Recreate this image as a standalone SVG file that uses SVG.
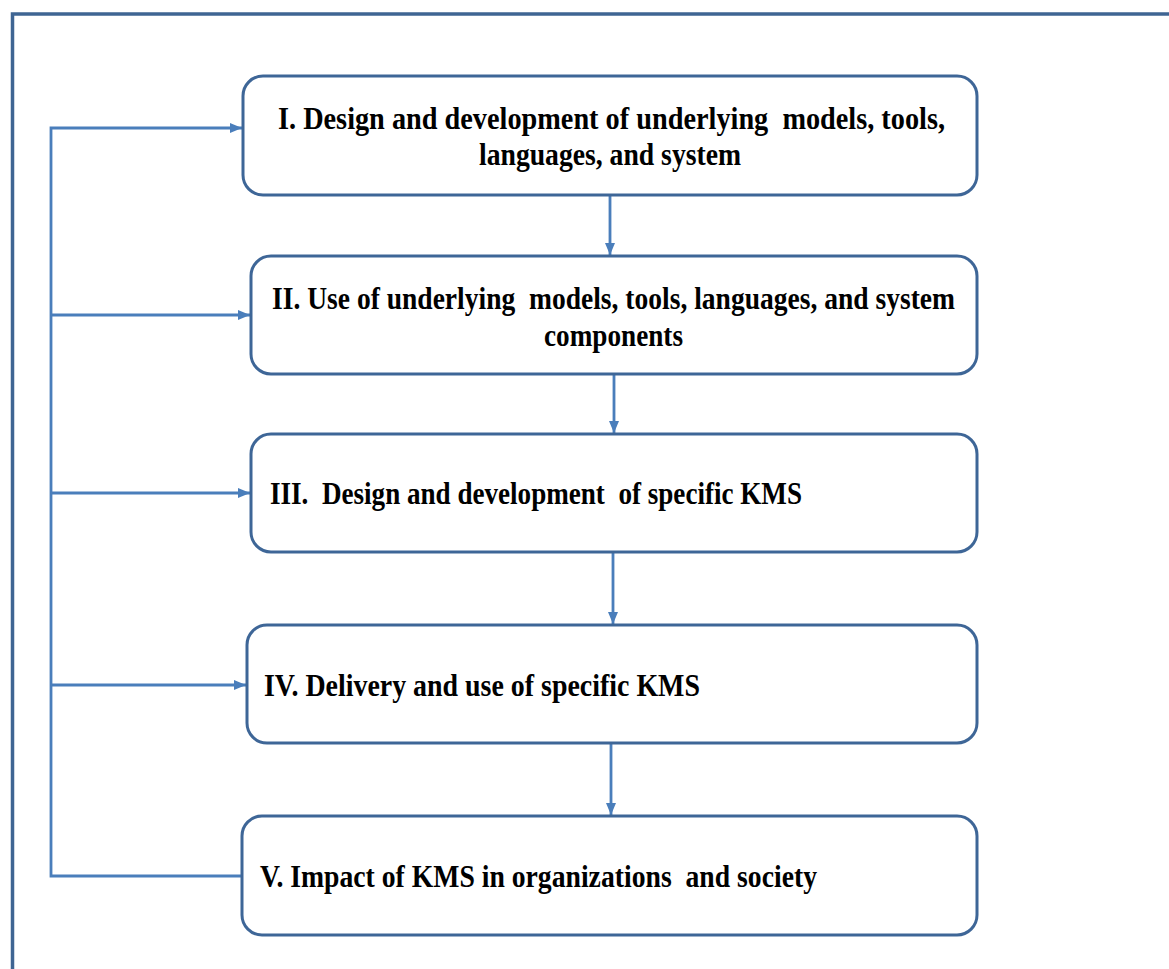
<svg xmlns="http://www.w3.org/2000/svg" width="1169" height="969" viewBox="0 0 1169 969">
  <style>
    .frame { fill: none; stroke: #3f6593; stroke-width: 3.5; }
    .box { fill: #ffffff; stroke: #3e6697; stroke-width: 3; }
    .link { fill: none; stroke: #4a7ebb; stroke-width: 2.8; }
    .label { font-family: "Liberation Serif", "Times New Roman", serif; font-weight: bold; font-size: 31px; fill: #000000; white-space: pre; }
  </style>
  <defs>
    <marker id="arrow" markerUnits="userSpaceOnUse" markerWidth="13" markerHeight="13" refX="12" refY="6.5" orient="auto">
      <path d="M0,1.5 L12,6.5 L0,11.5 Z" fill="#4a7ebb"/>
    </marker>
  </defs>

  <rect width="1169" height="969" fill="#ffffff"/>

  <!-- outer frame, open to the right and bottom -->
  <path class="frame" d="M12.5,969 V14 H1169"/>

  <!-- connectors -->
  <g id="connectors">
    <!-- feedback bus on the left -->
    <path class="link" d="M242,876 H51 V128 H242" marker-end="url(#arrow)"/>
    <path class="link" d="M51,315 H250" marker-end="url(#arrow)"/>
    <path class="link" d="M51,493 H250" marker-end="url(#arrow)"/>
    <path class="link" d="M51,685 H246" marker-end="url(#arrow)"/>
    <!-- stage to stage -->
    <path class="link" d="M610,195 V255" marker-end="url(#arrow)"/>
    <path class="link" d="M614,374 V433" marker-end="url(#arrow)"/>
    <path class="link" d="M613,552 V624" marker-end="url(#arrow)"/>
    <path class="link" d="M611,743 V815" marker-end="url(#arrow)"/>
  </g>

  <g id="stage-1">
    <rect class="box" x="243" y="76" width="734" height="119" rx="20"/>
    <text class="label" x="278" y="129" textLength="667" lengthAdjust="spacingAndGlyphs" xml:space="preserve">I. Design and development of underlying  models, tools,</text>
    <text class="label" x="479" y="165" textLength="262" lengthAdjust="spacingAndGlyphs">languages, and system</text>
  </g>

  <g id="stage-2">
    <rect class="box" x="251" y="256" width="726" height="118" rx="20"/>
    <text class="label" x="272" y="309" textLength="683" lengthAdjust="spacingAndGlyphs" xml:space="preserve">II. Use of underlying  models, tools, languages, and system</text>
    <text class="label" x="544" y="346" textLength="139" lengthAdjust="spacingAndGlyphs">components</text>
  </g>

  <g id="stage-3">
    <rect class="box" x="251" y="434" width="726" height="118" rx="20"/>
    <text class="label" x="270" y="504" textLength="532" lengthAdjust="spacingAndGlyphs" xml:space="preserve">III.  Design and development  of specific KMS</text>
  </g>

  <g id="stage-4">
    <rect class="box" x="247" y="625" width="730" height="118" rx="20"/>
    <text class="label" x="264" y="696" textLength="436" lengthAdjust="spacingAndGlyphs">IV. Delivery and use of specific KMS</text>
  </g>

  <g id="stage-5">
    <rect class="box" x="242" y="816" width="735" height="119" rx="20"/>
    <text class="label" x="260" y="887" textLength="557" lengthAdjust="spacingAndGlyphs" xml:space="preserve">V. Impact of KMS in organizations  and society</text>
  </g>
</svg>
